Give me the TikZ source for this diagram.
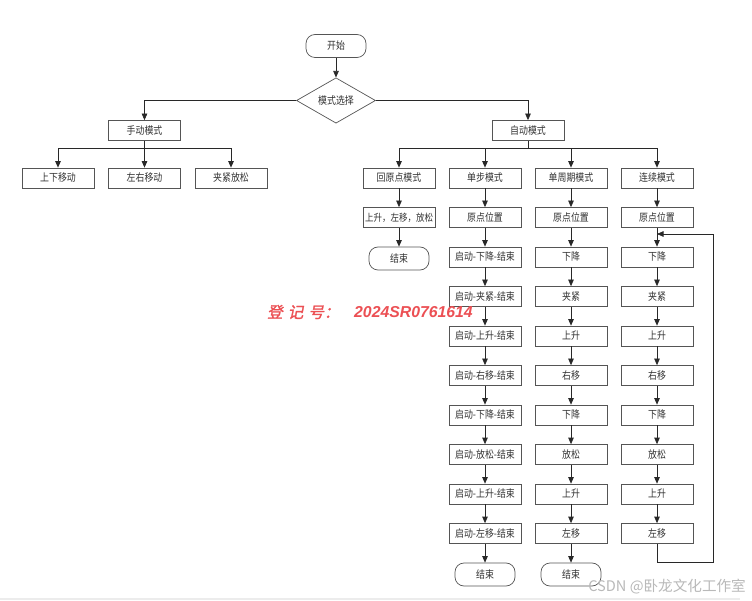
\documentclass[tikz,border=0pt]{standalone}
\usepackage{fontspec}
\usetikzlibrary{arrows.meta,shapes.geometric}
\newfontfamily\cjk[FakeStretch=0.85]{Noto Sans CJK SC}
\newfontfamily\cjkwm[FakeSlant=0.2,FakeBold=1.5]{Noto Sans CJK SC}
\newfontfamily\cjkcs{Noto Sans CJK SC}
\newfontfamily\wmlat{Liberation Sans}
\definecolor{lineclr}{RGB}{40,40,40}
\definecolor{boxclr}{RGB}{85,85,85}
\definecolor{txtclr}{RGB}{50,50,50}
\definecolor{wmred}{RGB}{236,80,84}
\definecolor{wmgray}{RGB}{185,185,185}
\begin{document}
\begin{tikzpicture}[x=1pt,y=-1pt,
  base/.style={draw=boxclr, line width=0.7pt, text=txtclr, inner sep=0pt,
    font=\cjk\fontsize{10.5}{11}\selectfont},
  box/.style={base, rectangle, minimum width=72pt, minimum height=20pt},
  term/.style={base, rectangle, rounded corners=9pt, minimum width=60pt, minimum height=23pt},
  dec/.style={base, diamond, minimum width=79pt, minimum height=45pt},
  arr/.style={draw=lineclr, line width=0.7pt, -{Triangle[length=6.5pt,width=5.5pt]}},
  ln/.style={draw=lineclr, line width=0.7pt}]
\useasboundingbox (0,0) rectangle (752,601);
\fill[white] (0,0) rectangle (752,601);

% top
\node[term] (start) at (336,46) {开始};
\node[dec] (sel) at (336,100.5) {模式选择};
\node[box] (manual) at (144.5,130.5) {手动模式};
\node[box] (auto) at (528,130.5) {自动模式};
\draw[arr] (start) -- (sel);
\draw[arr] (sel.west) -| (manual.north);
\draw[arr] (sel.east) -| (auto.north);

% manual branch
\node[box] (m1) at (58,178) {上下移动};
\node[box] (m2) at (144.5,178) {左右移动};
\node[box] (m3) at (231,178) {夹紧放松};
\coordinate (mbus) at (144.5,148);
\draw[ln] (manual.south) -- (mbus);
\foreach \k in {1,2,3} { \draw[arr] (mbus) -| (m\k.north); }

% auto branch headers
\node[box] (a0) at (399,178) {回原点模式};
\node[box] (b0) at (485,178) {单步模式};
\node[box] (c0) at (571,178) {单周期模式};
\node[box] (d0) at (657,178) {连续模式};
\coordinate (abus) at (528,148);
\draw[ln] (auto.south) -- (abus);
\foreach \k in {a,b,c,d} { \draw[arr] (abus) -| (\k0.north); }

% return-to-origin column
\node[box, font=\cjk\fontsize{10}{11}\selectfont] (a1) at (399,217.5) {上升，左移，放松};
\node[term] (a2) at (399,258.5) {结束};
\draw[arr] (a0) -- (a1);
\draw[arr] (a1) -- (a2);

% single step column
\foreach \txt [count=\i] in {原点位置,启动-下降-结束,启动-夹紧-结束,启动-上升-结束,启动-右移-结束,启动-下降-结束,启动-放松-结束,启动-上升-结束,启动-左移-结束}
  { \node[box] (b\i) at (485,{178+39.5*\i}) {\txt}; }
\node[term] (b10) at (485,574.5) {结束};

% single cycle column
\foreach \txt [count=\i] in {原点位置,下降,夹紧,上升,右移,下降,放松,上升,左移}
  { \node[box] (c\i) at (571,{178+39.5*\i}) {\txt}; }
\node[term] (c10) at (571,574.5) {结束};

% continuous column
\foreach \txt [count=\i] in {原点位置,下降,夹紧,上升,右移,下降,放松,上升,左移}
  { \node[box] (d\i) at (657,{178+39.5*\i}) {\txt}; }

\foreach \i in {0,...,9} {
  \pgfmathtruncatemacro\j{\i+1}
  \draw[arr] (b\i) -- (b\j);
  \draw[arr] (c\i) -- (c\j);
}
\foreach \i in {0,...,8} {
  \pgfmathtruncatemacro\j{\i+1}
  \draw[arr] (d\i) -- (d\j);
}

% loop back
\coordinate (loopB) at (713,562);
\coordinate (loopT) at (713,234);
\coordinate (loopJ) at (657,234);
\draw[arr] (d9.south) |- (loopB) -- (loopT) -- (loopJ);

% watermarks
\node[anchor=west, inner sep=0pt, text=wmred, font=\cjkwm\fontsize{15.5}{16}\selectfont] (wm1) at (267,312) {登\,\,记\,\,号：};
\node[anchor=west, inner sep=0pt, text=wmred, font=\wmlat\bfseries\itshape\fontsize{15.8}{16}\selectfont] (wm2) at (354,312) {2024SR0761614};
\node[anchor=east, inner sep=0pt, text=wmgray, font=\cjkcs\fontsize{14.6}{15}\selectfont] (wm3) at (746,587) {CSDN @卧龙文化工作室};
\draw[gray!15, line width=1.2pt] (0,599) -- (740,599);
\end{tikzpicture}
\end{document}
